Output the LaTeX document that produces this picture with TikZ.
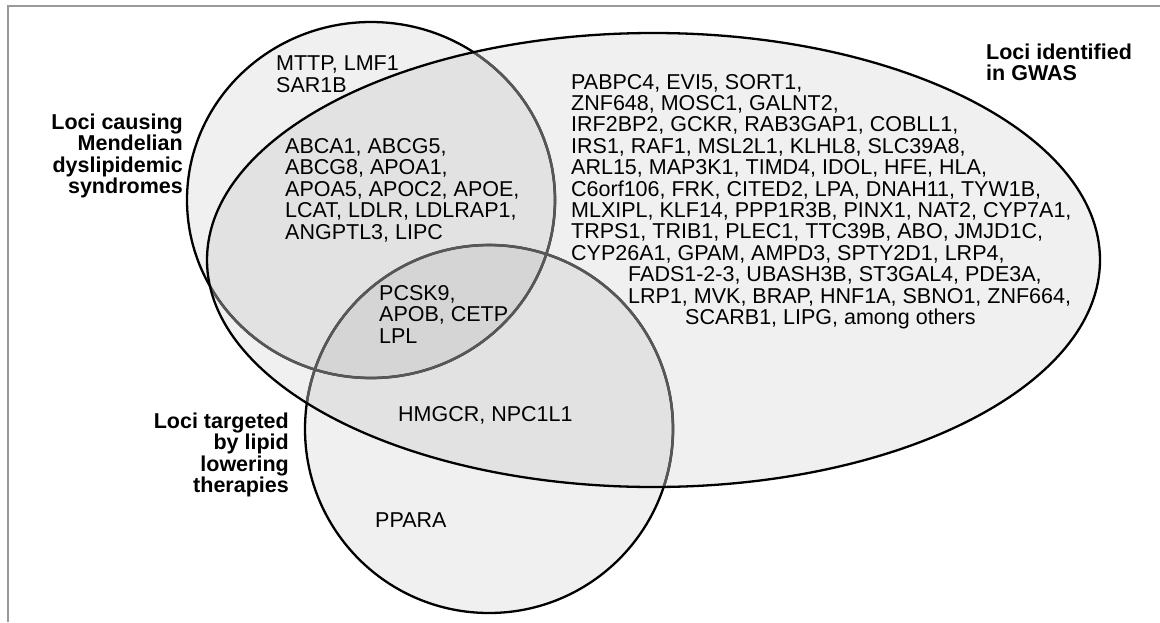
\documentclass[tikz,border=0pt]{standalone}
\usepackage{fontspec}
\setmainfont{Liberation Sans}
\begin{document}
\begin{tikzpicture}[x=1pt,y=-1pt,
  gene/.style={inner sep=0pt, anchor=base west, font=\fontsize{21.5}{22}\selectfont},
  lblr/.style={inner sep=0pt, anchor=base east, font=\fontsize{21.5}{22}\selectfont\bfseries},
  lbll/.style={inner sep=0pt, anchor=base west, font=\fontsize{21.5}{22}\selectfont\bfseries},
  setfill/.style={fill=black, fill opacity=0.06},
  outerline/.style={draw=black, line width=2.3pt},
  innerline/.style={draw=black!66, line width=2.6pt},
  frameline/.style={draw=black!40, line width=1.6pt}]

\useasboundingbox (0,0) rectangle (1160,622);

% frame
\coordinate (fA) at (8,622);
\coordinate (fB) at (8,6);
\coordinate (fC) at (1160,6);
\draw[frameline] (fA) -- (fB) -- (fC);

% set centres
\coordinate (mc) at (371,200);
\coordinate (tc) at (489,429);
\coordinate (gc) at (653.5,260);

% fills
\fill[setfill] (mc) ellipse [x radius=184, y radius=178];
\fill[setfill] (tc) ellipse [x radius=184, y radius=184];
\fill[setfill] (gc) ellipse [x radius=446.5, y radius=227];

% outlines of the two circles (grey where they lie inside the GWAS set)
\draw[outerline] (mc) ellipse [x radius=184, y radius=178];
\draw[outerline] (tc) ellipse [x radius=184, y radius=184];
\begin{scope}
  \clip (gc) ellipse [x radius=446.5, y radius=227];
  \draw[innerline] (mc) ellipse [x radius=184, y radius=178];
  \draw[innerline] (tc) ellipse [x radius=184, y radius=184];
\end{scope}
\draw[outerline] (gc) ellipse [x radius=446.5, y radius=227];

% Mendelian only
\node[gene] (m1) at (276,70) {MTTP, LMF1};
\node[gene] (m2) at (276,92) {SAR1B};

% Mendelian and GWAS
\node[gene] (a1) at (285,153) {ABCA1, ABCG5,};
\node[gene] (a2) at (285,174.5) {ABCG8, APOA1,};
\node[gene] (a3) at (285,196) {APOA5, APOC2, APOE,};
\node[gene] (a4) at (285,217.5) {LCAT, LDLR, LDLRAP1,};
\node[gene] (a5) at (285,239) {ANGPTL3, LIPC};

% all three
\node[gene] (p1) at (379,300) {PCSK9,};
\node[gene] (p2) at (379,321.5) {APOB, CETP};
\node[gene] (p3) at (379,343) {LPL};

% therapies and GWAS
\node[gene] (h1) at (398,421) {HMGCR, NPC1L1};
% therapies only
\node[gene] (pp) at (375,527) {PPARA};

% GWAS only
\node[gene] (g1) at (571,89) {PABPC4, EVI5, SORT1,};
\node[gene] (g2) at (571,110.4) {ZNF648, MOSC1, GALNT2,};
\node[gene] (g3) at (571,131.8) {IRF2BP2, GCKR, RAB3GAP1, COBLL1,};
\node[gene] (g4) at (571,153.2) {IRS1, RAF1, MSL2L1, KLHL8, SLC39A8,};
\node[gene] (g5) at (571,174.6) {ARL15, MAP3K1, TIMD4, IDOL, HFE, HLA,};
\node[gene] (g6) at (571,196) {C6orf106, FRK, CITED2, LPA, DNAH11, TYW1B,};
\node[gene] (g7) at (571,217.4) {MLXIPL, KLF14, PPP1R3B, PINX1, NAT2, CYP7A1,};
\node[gene] (g8) at (571,238.8) {TRPS1, TRIB1, PLEC1, TTC39B, ABO, JMJD1C,};
\node[gene] (g9) at (571,260.2) {CYP26A1, GPAM, AMPD3, SPTY2D1, LRP4,};
\node[gene] (g10) at (628,281.6) {FADS1-2-3, UBASH3B, ST3GAL4, PDE3A,};
\node[gene] (g11) at (628,303) {LRP1, MVK, BRAP, HNF1A, SBNO1, ZNF664,};
\node[gene] (g12) at (685,324.4) {SCARB1, LIPG, among others};

% set labels
\node[lblr] (lm1) at (183,129) {Loci causing};
\node[lblr] (lm2) at (183,150.5) {Mendelian};
\node[lblr] (lm3) at (183,172) {dyslipidemic};
\node[lblr] (lm4) at (183,193.5) {syndromes};

\node[lbll] (lg1) at (986,59) {Loci identified};
\node[lbll] (lg2) at (986,80.5) {in GWAS};

\node[lblr] (lt1) at (289,428) {Loci targeted};
\node[lblr] (lt2) at (289,449.5) {by lipid};
\node[lblr] (lt3) at (289,471) {lowering};
\node[lblr] (lt4) at (289,492.5) {therapies};
\end{tikzpicture}
\end{document}
